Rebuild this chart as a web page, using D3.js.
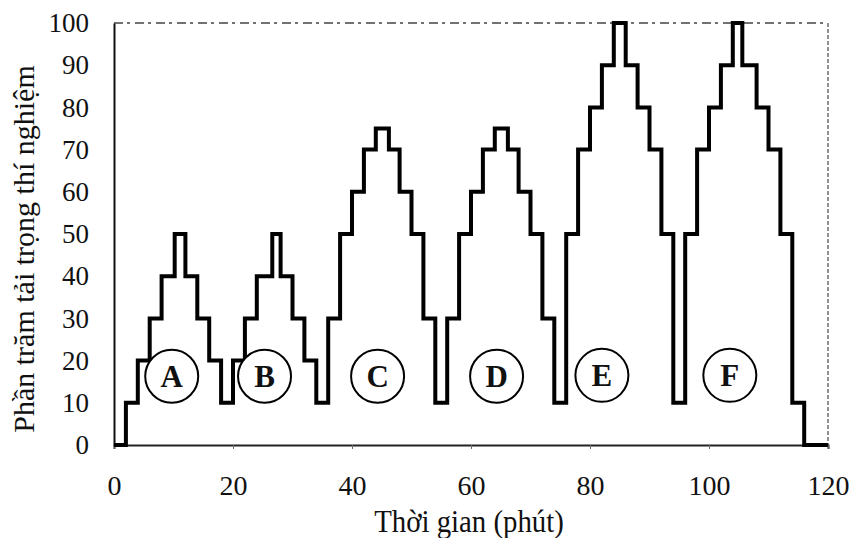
<!DOCTYPE html>
<html>
<head>
<meta charset="utf-8">
<script src="https://cdn.jsdelivr.net/npm/d3@7"></script>
<style>
body { margin:0; background:#fff; }
text { font-family: "Liberation Serif", "DejaVu Serif", serif; fill:#111; }
</style>
</head>
<body>
<svg id="chart" width="854" height="538"></svg>
<script>
// time (min) at which each load step begins, and the load level (%) of that step
const stepTimes  = [0,2,4,6,8,10.2,12,14,16,18, 20,22,24,26.6,28,30,32,34,36,38,
                    40,42,44,46.2,48,50,52,54,56,58, 60,62,64,66.2,68,70,72,74,76,78,
                    80,82,84,86,88,90,92,94,96,98, 100,102,104,105.6,108,110,112,114,116,120];
const stepLevels = [0,10,20,30,40,50,40,30,20,10, 20,30,40,50,40,30,20,10,30,50,
                    60,70,75,70,60,50,30,10,30,50, 60,70,75,70,60,50,30,10,50,70,
                    80,90,100,90,80,70,50,10,50,70, 80,90,100,90,80,70,50,10,0,0];
const xTicks = [0,20,40,60,80,100,120];
const yTicks = [0,10,20,30,40,50,60,70,80,90,100];
// test labels: letter, time, level of circle centre
const testNames = ["A","B","C","D","E","F"];
const testTimes = [9.7,25.3,44.3,64.3,82.0,103.5];
const testLevel = [16.3,16.3,16.3,16.3,16.5,16.5];

const svg = d3.select("#chart");
const margin = {left:114, right:26, top:23, bottom:93};
const width = 854, height = 538;

let x = d3.scaleLinear().domain([0,120]).range([margin.left, width - margin.right]);
let y = d3.scaleLinear().domain([0,100]).range([height - margin.bottom, margin.top]);

// frame: broken top and right edges (scan look), solid left and bottom
svg.append("line")
   .attr("x1", x(0)).attr("x2", x(120)).attr("y1", y(100)).attr("y2", y(100))
   .attr("stroke", "#444").attr("stroke-width", 1.3).attr("stroke-dasharray", "9,4,3,5");
svg.append("line")
   .attr("x1", x(120)).attr("x2", x(120)).attr("y1", y(100)).attr("y2", y(0))
   .attr("stroke", "#555").attr("stroke-width", 1.3).attr("stroke-dasharray", "4,2");

let xAxis = svg.append("g")
   .attr("transform", `translate(0,${y(0)})`)
   .call(d3.axisBottom(x).tickValues(xTicks).tickSize(4).tickPadding(26).tickFormat(d3.format("d")));
xAxis.select(".domain").attr("stroke", "#222").attr("stroke-width", 2);
xAxis.selectAll(".tick line").attr("stroke", "#666");
xAxis.selectAll("text").attr("font-size", 28).attr("font-family", "Liberation Serif").attr("fill", "#111");

let yAxis = svg.append("g")
   .attr("transform", `translate(${x(0)},0)`)
   .call(d3.axisLeft(y).tickValues(yTicks).tickSize(0).tickPadding(25).tickFormat(d3.format("d")));
yAxis.select(".domain").attr("stroke", "#111").attr("stroke-width", 2);
yAxis.selectAll("text").attr("font-size", 27).attr("font-family", "Liberation Serif").attr("fill", "#111");

// the load profile
let pts = stepTimes.map((t, i) => [t, stepLevels[i]]);
let lineGen = d3.line().x(d => x(d[0])).y(d => y(d[1])).curve(d3.curveStepAfter);
svg.append("path")
   .datum(pts)
   .attr("fill", "none")
   .attr("stroke", "#000")
   .attr("stroke-width", 4)
   .attr("stroke-linejoin", "miter")
   .attr("d", lineGen);

// circled letters
let marks = svg.selectAll("g.test")
   .data(testNames)
   .join("g")
   .attr("class", "test")
   .attr("transform", (d, i) => `translate(${x(testTimes[i])},${y(testLevel[i])})`);
marks.append("circle")
   .attr("r", 26.5)
   .attr("fill", "#fff")
   .attr("stroke", "#000")
   .attr("stroke-width", 2);
marks.append("text")
   .attr("text-anchor", "middle")
   .attr("dy", "0.35em")
   .attr("font-size", 31)
   .attr("font-weight", "bold")
   .text(d => d);

// axis titles
svg.append("text")
   .attr("transform", "translate(469,532) scale(0.9,1)")
   .attr("text-anchor", "middle")
   .attr("font-size", 32)
   .text("Thời gian (phút)");
svg.append("text")
   .attr("transform", "translate(34,249) rotate(-90)")
   .attr("text-anchor", "middle")
   .attr("font-size", 30)
   .text("Phần trăm tải trọng thí nghiệm");
</script>
</body>
</html>
